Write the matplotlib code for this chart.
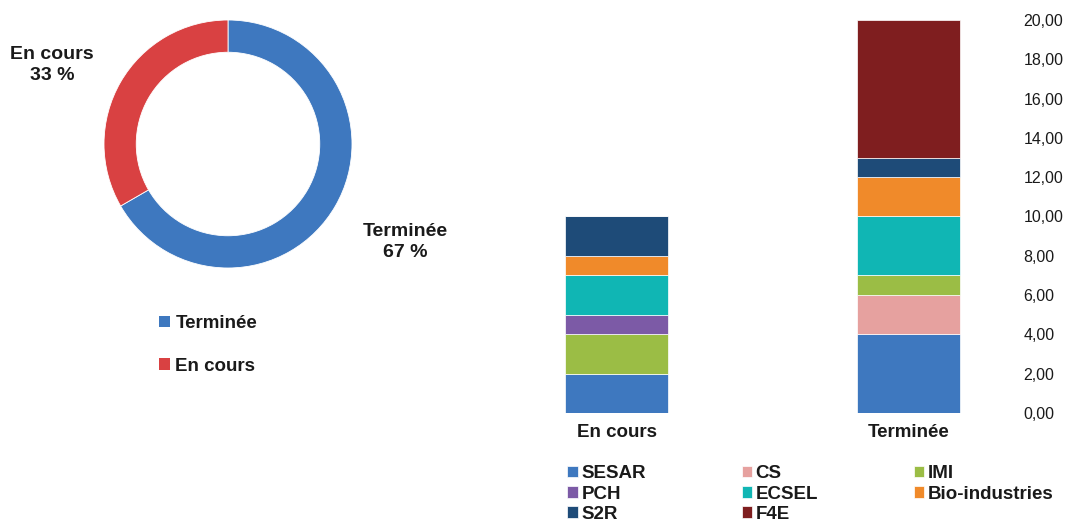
import numpy as np
import matplotlib.pyplot as plt
from matplotlib.patches import Patch
from matplotlib.ticker import FuncFormatter

plt.rcParams['font.family'] = ['Liberation Sans', 'DejaVu Sans']

## DATA
statuses = ['En cours', 'Terminée']
programmes = ['SESAR', 'CS', 'IMI', 'PCH', 'ECSEL', 'Bio-industries', 'S2R', 'F4E']
en_cours = [2, 0, 2, 1, 2, 1, 2, 0]
terminee = [4, 2, 1, 0, 3, 2, 1, 7]
prog_colors = ['#3E78BF', '#E6A19F', '#9BBD45', '#7C5AA6', '#10B6B4',
               '#F08A2A', '#1E4B78', '#7F1E1F']

donut_labels = ['Terminée', 'En cours']
donut_values = [sum(terminee), sum(en_cours)]
donut_colors = ['#3E78BF', '#D94142']

W, H = 1068, 524
fig = plt.figure(figsize=(W / 100, H / 100), dpi=100)
txt = '#1a1a1a'

def fx(px):
    return px / W

def fy(py):
    return 1 - py / H

## DONUT
cx, cy, r = 228, 144, 124
axd = fig.add_axes([fx(cx - r), fy(cy + r), 2 * r / W, 2 * r / H])
wedges, _ = axd.pie(donut_values, colors=donut_colors, startangle=90,
                    counterclock=False, radius=1,
                    wedgeprops=dict(width=0.26, edgecolor='white', linewidth=0.6))
axd.set_xlim(-1, 1)
axd.set_ylim(-1, 1)
axd.set_aspect('equal')
axd.axis('off')

total = sum(donut_values)
pct = [round(100 * v / total) for v in donut_values]
fig.text(fx(405), fy(242), '%s\n%d %%' % (donut_labels[0], pct[0]), ha='center',
         va='center', fontsize=14, fontweight='bold', color=txt, linespacing=1.25)
fig.text(fx(52), fy(65), '%s\n%d %%' % (donut_labels[1], pct[1]), ha='center',
         va='center', fontsize=14, fontweight='bold', color=txt, linespacing=1.25)

dh = [Patch(facecolor=c, edgecolor='none') for c in donut_colors]
fig.legend(dh, donut_labels, loc='upper left', bbox_to_anchor=(fx(150), fy(306)),
           frameon=False, prop=dict(size=13.5, weight='bold'), labelcolor=txt,
           handlelength=0.55, handleheight=0.55, handletextpad=0.3,
           labelspacing=1.35, borderpad=0)

## STACKED BARS
axb = fig.add_axes([fx(471), fy(413), (1011 - 471) / W, (413 - 20) / H])
x = np.arange(len(statuses))
data = np.array([en_cours, terminee])
bottom = np.zeros(len(statuses))
handles = []
for i, name in enumerate(programmes):
    vals = data[:, i]
    b = axb.bar(x, vals, bottom=bottom, width=0.353, color=prog_colors[i],
                edgecolor='#ffffff', linewidth=0.5, label=name)
    handles.append(b)
    bottom = bottom + vals

axb.set_xlim(-0.5, 1.35)
axb.set_ylim(0, 20)
axb.set_yticks(np.arange(0, 21, 2))
axb.yaxis.set_major_formatter(FuncFormatter(lambda v, p: ('%.2f' % v).replace('.', ',')))
axb.yaxis.tick_right()
axb.tick_params(axis='y', length=0, pad=9, labelsize=11.5, labelcolor=txt)
axb.set_xticks(x)
axb.set_xticklabels(statuses, fontsize=13.5, fontweight='bold', color=txt)
axb.tick_params(axis='x', length=0, pad=8)
for s in axb.spines.values():
    s.set_visible(False)

# legend is filled column by column, so reorder to read row by row
order = [0, 3, 6, 1, 4, 7, 2, 5]
fig.legend([handles[k] for k in order], [programmes[k] for k in order],
           loc='upper left', bbox_to_anchor=(fx(558), fy(456)), ncol=3,
           frameon=False, prop=dict(size=13.5, weight='bold'), labelcolor=txt,
           handlelength=0.55, handleheight=0.55, handletextpad=0.2,
           labelspacing=0.17, columnspacing=5.1, borderpad=0)

fig.savefig('out.png', dpi=100)
